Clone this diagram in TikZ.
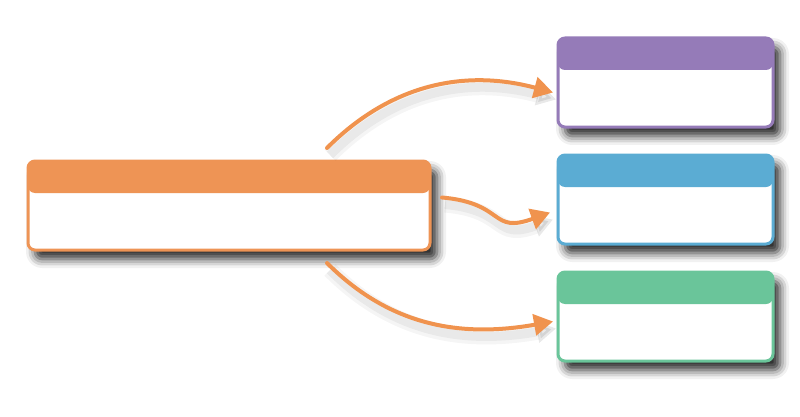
\documentclass[tikz,border=0pt]{standalone}
\usetikzlibrary{positioning,arrows.meta,shadows.blur}
\definecolor{boxorange}{HTML}{EE9455}
\definecolor{boxpurple}{HTML}{957BB8}
\definecolor{boxblue}{HTML}{5BACD3}
\definecolor{boxgreen}{HTML}{6AC59A}
\definecolor{linkorange}{HTML}{F0934E}
\begin{document}
\begin{tikzpicture}
            [x=1pt,y=1pt,
             card/.style={rectangle,draw=#1,fill=white,line width=3pt,rounded corners=7pt,
               minimum height=89pt,inner sep=0pt,outer sep=0pt,
               blur shadow={shadow xshift=7pt,shadow yshift=-9pt,shadow blur radius=9pt,shadow opacity=85},
               path picture={\fill[#1] (path picture bounding box.north west) rectangle
                 ([yshift=-32pt]path picture bounding box.north east);}},
             link/.style={draw=linkorange,line width=4pt,line cap=round,
               -{Triangle[length=19pt,width=21pt]},
               preaction={draw=black,opacity=.04,line width=16pt,transform canvas={shift={(3pt,-7pt)}}},
               preaction={draw=black,opacity=.05,line width=9pt,transform canvas={shift={(3pt,-7pt)}}}}]
            \useasboundingbox (0,0) rectangle (800,416);
            \node[card=boxorange,minimum width=402pt](main) at (229,210.5) {};
            \node[card=boxpurple,minimum width=215pt](purple) at (665.5,333.5) {};
            \node[card=boxblue,minimum width=215pt](blue)[below=28pt of purple] {};
            \node[card=boxgreen,minimum width=215pt](green)[below=28pt of blue] {};
            \coordinate (s1) at ([xshift=-103pt,yshift=13pt]main.north east);
            \coordinate (s2) at ([xshift=12pt,yshift=8pt]main.east);
            \coordinate (s3) at ([xshift=-103pt,yshift=-13pt]main.south east);
            \draw[link] (s1) to[out=45,in=165] ([xshift=-5pt,yshift=-10pt]purple.west);
            \draw[link] (s2) to[out=-5,in=200,looseness=1.5] ([xshift=-8pt,yshift=-13pt]blue.west);
            \draw[link] (s3) to[out=-45,in=190] ([xshift=-5pt,yshift=-5pt]green.west);
        \end{tikzpicture}
\end{document}
